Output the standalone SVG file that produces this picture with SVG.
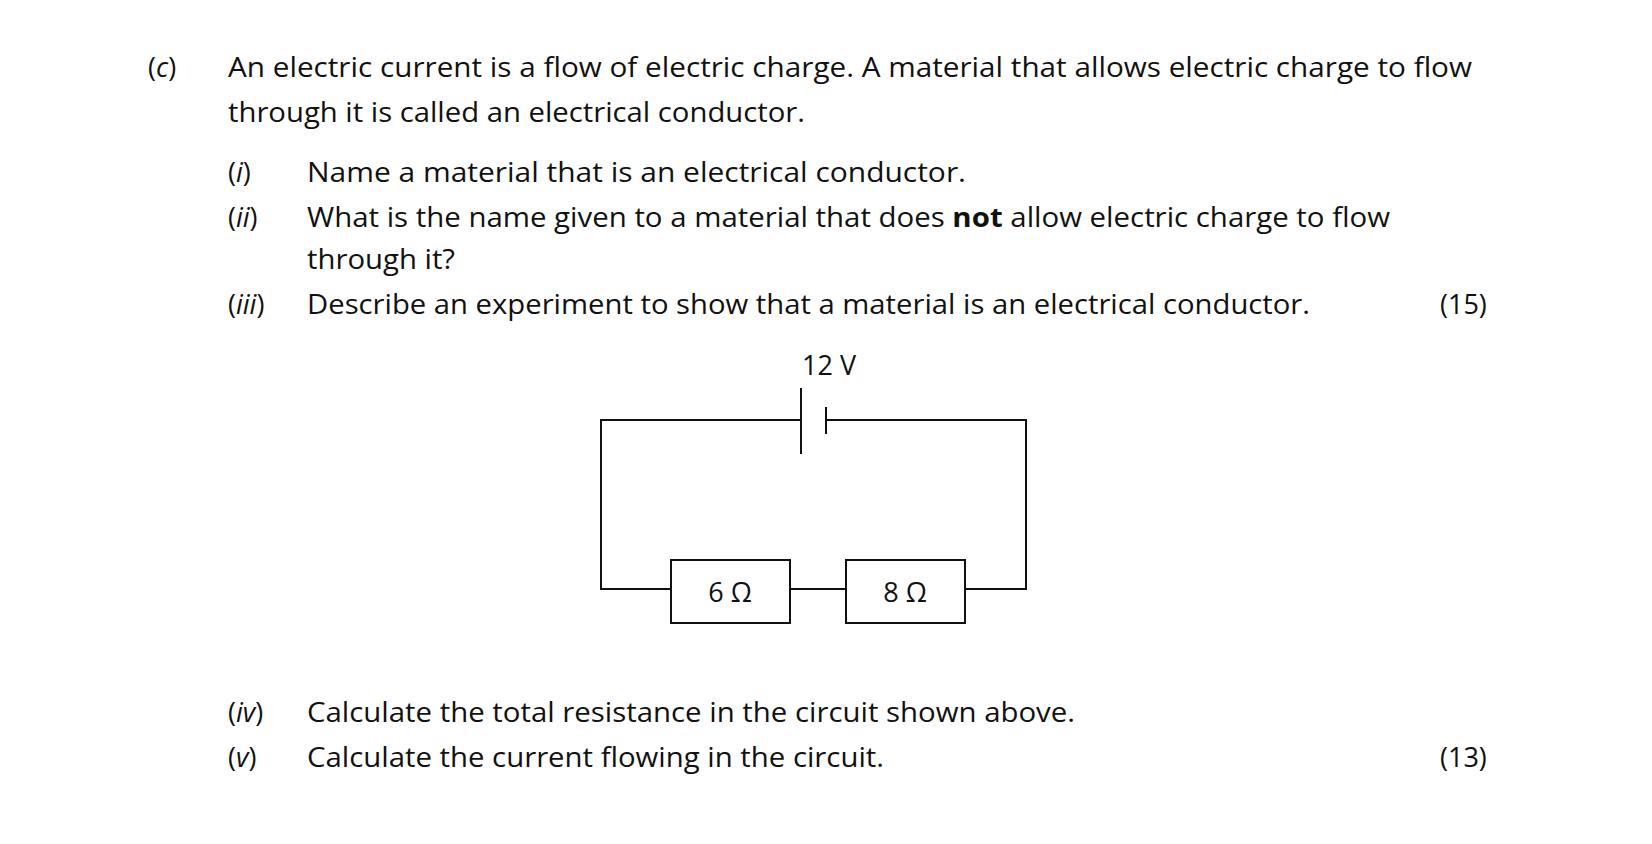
<svg xmlns="http://www.w3.org/2000/svg" width="1652" height="844" viewBox="0 0 1652 844">
<style>
text{font-family:"Open Sans","Liberation Sans",sans-serif;font-size:27px;fill:#111}
.i{font-style:italic}
.w{stroke:#111;stroke-width:2;fill:none}
</style>
<rect width="1652" height="844" fill="#fff"/>
<g id="text">
<text x="148" y="77">(<tspan class="i">c</tspan>)</text>
<text x="228" y="77" textLength="1244" lengthAdjust="spacingAndGlyphs">An electric current is a flow of electric charge.  A material that allows electric charge to flow</text>
<text x="228" y="122" textLength="577" lengthAdjust="spacingAndGlyphs">through it is called an electrical conductor.</text>
<text x="228" y="182">(<tspan class="i">i</tspan>)</text>
<text x="307" y="182" textLength="659" lengthAdjust="spacingAndGlyphs">Name a material that is an electrical conductor.</text>
<text x="228" y="227">(<tspan class="i">ii</tspan>)</text>
<text x="307" y="227" textLength="1083" lengthAdjust="spacingAndGlyphs">What is the name given to a material that does <tspan font-weight="bold">not</tspan> allow electric charge to flow</text>
<text x="307" y="269" textLength="148" lengthAdjust="spacingAndGlyphs">through it?</text>
<text x="228" y="314">(<tspan class="i">iii</tspan>)</text>
<text x="307" y="314" textLength="1003" lengthAdjust="spacingAndGlyphs">Describe an experiment to show that a material is an electrical conductor.</text>
<text x="1440" y="314">(15)</text>
<text x="228" y="722">(<tspan class="i">iv</tspan>)</text>
<text x="307" y="722" textLength="768" lengthAdjust="spacingAndGlyphs">Calculate the total resistance in the circuit shown above.</text>
<text x="228" y="767">(<tspan class="i">v</tspan>)</text>
<text x="307" y="767" textLength="577" lengthAdjust="spacingAndGlyphs">Calculate the current flowing in the circuit.</text>
<text x="1440" y="767">(13)</text>
</g>
<g id="battery">
<text x="829" y="375" text-anchor="middle">12 V</text>
<line class="w" x1="801" y1="388" x2="801" y2="454"/>
<line class="w" x1="826" y1="407" x2="826" y2="434"/>
</g>
<g id="r6">
<rect class="w" x="671" y="560" width="119" height="63"/>
<text x="730" y="602" text-anchor="middle">6 Ω</text>
</g>
<g id="r8">
<rect class="w" x="846" y="560" width="119" height="63"/>
<text x="905" y="602" text-anchor="middle">8 Ω</text>
</g>
<g id="wires">
<polyline class="w" points="801,420 601,420 601,589 671,589"/>
<polyline class="w" points="826,420 1026,420 1026,589 965,589"/>
<line class="w" x1="790" y1="589" x2="846" y2="589"/>
</g>
</svg>
